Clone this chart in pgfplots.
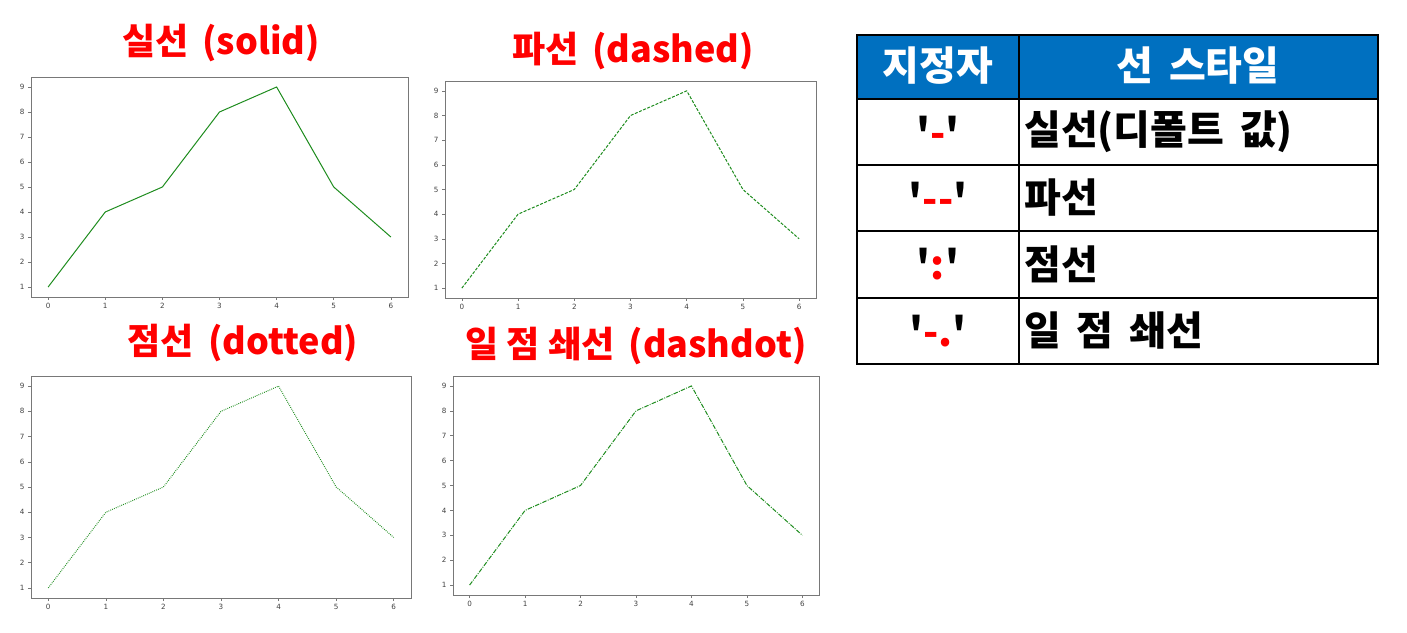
\documentclass[border=0pt]{standalone}
\usepackage{fontspec}
\setmainfont{DejaVu Sans}
\newfontfamily\kr{Noto Sans CJK KR}
\usepackage{pgfplots}
\usepackage{pgfplotstable}
\pgfplotsset{compat=1.18}
\definecolor{mplgreen}{RGB}{30,140,30}
\definecolor{hdr}{RGB}{0,112,192}
\definecolor{axgray}{RGB}{120,120,120}

\pgfplotstableread{
x y
0 1
1 4
2 5
3 8
4 9
5 5
6 3
}\data

\pgfplotsset{
  sub/.style={
    scale only axis, anchor=south west,
    xmin=-0.3, xmax=6.3, ymin=0.6, ymax=9.4,
    xtick={0,...,6}, ytick={1,...,9},
    tick align=outside, tick pos=left, major tick length=3pt,
    axis line style={axgray, line width=0.8pt},
    tick style={axgray, line width=0.5pt},
    ticklabel style={font=\fontsize{7.2}{8}\selectfont, text=black!75},
    /pgf/number format/assume math mode=true,
  }
}

\begin{document}
\begin{tikzpicture}[x=1pt,y=1pt]
\path[use as bounding box] (0,0) rectangle (1407,632);

% subplot 1: solid
\begin{axis}[sub, at={(31pt,335pt)}, width=377pt, height=220pt]
\addplot[mplgreen, line width=1pt] table[x=x,y=y] {\data};
\end{axis}
% subplot 2: dashed
\begin{axis}[sub, at={(445pt,334pt)}, width=371pt, height=217pt]
\addplot[mplgreen, line width=1pt, dash pattern=on 3pt off 1.5pt] table[x=x,y=y] {\data};
\end{axis}
% subplot 3: dotted
\begin{axis}[sub, at={(31pt,34pt)}, width=380pt, height=222pt]
\addplot[mplgreen, line width=1pt, dash pattern=on 0.8pt off 1.2pt] table[x=x,y=y] {\data};
\end{axis}
% subplot 4: dashdot
\begin{axis}[sub, at={(453pt,37pt)}, width=366pt, height=219pt]
\addplot[mplgreen, line width=1pt, dash pattern=on 4.5pt off 1.3pt on 0.9pt off 1.3pt] table[x=x,y=y] {\data};
\end{axis}

% titles
\tikzset{ttl/.style={font=\kr\bfseries\fontsize{36}{40}\selectfont, text=red, inner sep=0pt}}
\node[ttl] at (221,589) {실선 \,(solid)};
\node[ttl] at (633,581) {파선 \,(dashed)};
\node[ttl] at (243,289) {점선 \,(dotted)};
\node[ttl] at (636,286) {일 점 쇄선 \,(dashdot)};

% table
\fill[hdr] (857,597) rectangle (1378,533);
\draw[black, line width=1.6pt] (857,597) rectangle (1378,268);
\foreach \yy in {533,467,401,334} \draw[black, line width=1.6pt] (857,\yy) -- (1378,\yy);
\draw[black, line width=1.6pt] (1019,597) -- (1019,268);

\tikzset{cell/.style={font=\kr\bfseries\fontsize{40}{44}\selectfont, inner sep=0pt}}
\node[cell, text=white] at (938,566) {지정자};
\node[cell, text=white] at (1198,566) {선 \,스타일};
\node[cell] at (938,500) {'{\color{red}-}'};
\node[cell] at (938,434) {'{\color{red}{-}{-}}'};
\node[cell] at (938,367.5) {'{\color{red}:}'};
\node[cell] at (938,301) {'{\color{red}-.}'};
\node[cell, anchor=west] at (1024,500) {실선(디폴트 \,값)};
\node[cell, anchor=west] at (1024,434) {파선};
\node[cell, anchor=west] at (1024,367.5) {점선};
\node[cell, anchor=west] at (1024,301) {일 \,점 \,쇄선};
\end{tikzpicture}
\end{document}
